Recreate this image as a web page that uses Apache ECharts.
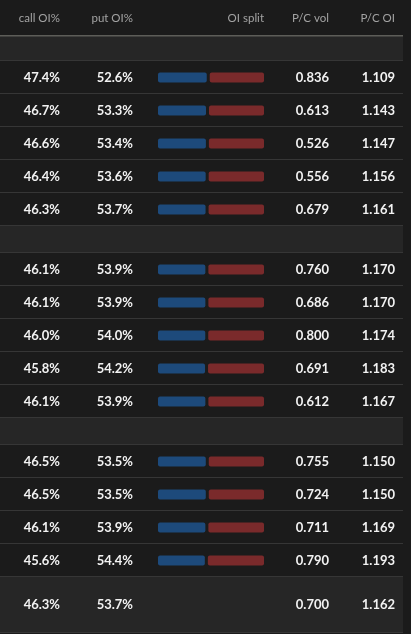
<!DOCTYPE html>
<html><head><meta charset="utf-8">
<script src="https://cdn.jsdelivr.net/npm/echarts@6/dist/echarts.min.js"></script>
<style>html,body{margin:0;padding:0;background:#1b1b1b}#c{width:411px;height:634px}</style>
</head><body><div id="c"></div>
<script>
const headers = ['call OI%','put OI%','OI split','P/C vol','P/C OI'];
// row kinds: 'g0' first group spacer, 'g' group spacer, 'd' = data, 't' = total
const rowKinds = ['g0','d','d','d','d','d','g','d','d','d','d','d','g','d','d','d','d','t'];
const callOI = [null,47.4,46.7,46.6,46.4,46.3,null,46.1,46.1,46.0,45.8,46.1,null,46.5,46.5,46.1,45.6,46.3];
const putOI  = [null,52.6,53.3,53.4,53.6,53.7,null,53.9,53.9,54.0,54.2,53.9,null,53.5,53.5,53.9,54.4,53.7];
const pcVol  = [null,'0.836','0.613','0.526','0.556','0.679',null,'0.760','0.686','0.800','0.691','0.612',null,'0.755','0.724','0.711','0.790','0.700'];
const pcOI   = [null,'1.109','1.143','1.147','1.156','1.161',null,'1.170','1.170','1.174','1.183','1.167',null,'1.150','1.150','1.169','1.193','1.162'];

const H = {g0:25, g:27, d:33, t:56};
const HEAD = 36;
let tops = [], y = HEAD;
rowKinds.forEach(k => { tops.push(y); y += H[k]; });

const W = 403;
const colRight = [60, 133, 264, 329, 395];
const font = 'Lato, "Noto Sans", sans-serif';

const chart = echarts.init(document.getElementById('c'));
const rowData = rowKinds.map((k,i)=>[i]);

chart.setOption({
  backgroundColor:'#1b1b1b',
  animation:false,
  grid:[{left:0,top:0,width:411,height:634},{left:158,top:0,width:106,height:634}],
  xAxis:[{type:'value',min:0,max:411,show:false,gridIndex:0},{type:'value',min:0,max:100,show:false,gridIndex:1}],
  yAxis:[{type:'value',min:0,max:634,inverse:true,show:false,gridIndex:0},{type:'value',min:0,max:634,inverse:true,show:false,gridIndex:1}],
  series:[
    {type:'custom',xAxisIndex:0,yAxisIndex:0,data:[[0]],silent:true,
     renderItem:(p,api)=>{
       const ch=[];
       headers.forEach((h,j)=>{
         const pt=api.coord([colRight[j],HEAD/2]);
         ch.push({type:'text',style:{text:h,x:pt[0],y:pt[1],align:'right',verticalAlign:'middle',fill:'#a3a3a3',font:'11.5px '+font}});
       });
       rowKinds.forEach((k,i)=>{
         const a=api.coord([0,tops[i]]), b=api.coord([W,tops[i]+H[k]]);
         if(k!=='d') ch.push({type:'rect',shape:{x:a[0],y:a[1],width:b[0]-a[0],height:b[1]-a[1]},style:{fill:'#262626'}});
         ch.push({type:'rect',shape:{x:a[0],y:b[1]-1,width:b[0]-a[0],height:1},style:{fill:'#363636'}});
       });
       const l=api.coord([0,HEAD]);
       ch.push({type:'rect',shape:{x:0,y:l[1]-1,width:W,height:1.5},style:{fill:'#5d5d58'}});
       rowKinds.forEach((k,i)=>{
         if(k[0]==='g') return;
         const cy=tops[i]+H[k]/2;
         const vals=[callOI[i].toFixed(1)+'%',putOI[i].toFixed(1)+'%',null,pcVol[i],pcOI[i]];
         vals.forEach((v,j)=>{
           if(v===null) return;
           const pt=api.coord([colRight[j],cy]);
           ch.push({type:'text',style:{text:v,x:pt[0],y:pt[1],align:'right',verticalAlign:'middle',fill:'#f2f2f2',font:'bold 13px '+font}});
         });
       });
       return {type:'group',children:ch};
     }},
    {type:'custom',xAxisIndex:1,yAxisIndex:1,data:rowData,silent:true,
     renderItem:(p,api)=>{
       const i=api.value(0);
       if(rowKinds[i]!=='d') return null;
       const cy=tops[i]+H.d/2;
       const a=api.coord([0,cy]), m=api.coord([callOI[i],cy]), e=api.coord([100,cy]);
       const h=10;
       return {type:'group',children:[
         {type:'rect',shape:{x:a[0],y:a[1]-h/2,width:m[0]-a[0]-1.5,height:h,r:2},style:{fill:'#1d4a7b'}},
         {type:'rect',shape:{x:m[0]+1.5,y:a[1]-h/2,width:e[0]-m[0]-1.5,height:h,r:2},style:{fill:'#7a2a2b'}}
       ]};
     }}
  ]
});
</script></body></html>
